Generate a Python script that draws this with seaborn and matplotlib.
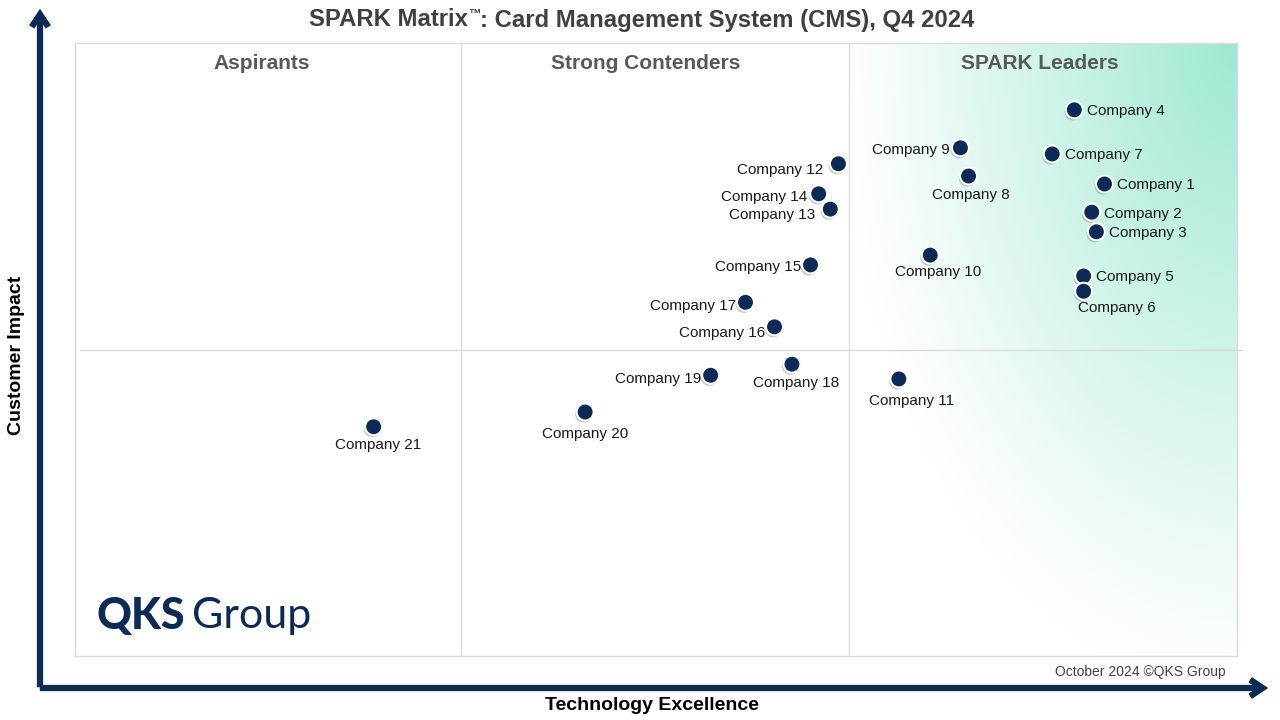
import numpy as np
import pandas as pd
import matplotlib
matplotlib.use('Agg')
import matplotlib.pyplot as plt
import matplotlib.patheffects as pe
from matplotlib.patches import FancyArrowPatch
import seaborn as sns

# vendor scores (0-100 on both axes)
companies = ['Company 1', 'Company 2', 'Company 3', 'Company 4', 'Company 5', 'Company 6',
             'Company 7', 'Company 8', 'Company 9', 'Company 10', 'Company 11', 'Company 12',
             'Company 13', 'Company 14', 'Company 15', 'Company 16', 'Company 17', 'Company 18',
             'Company 19', 'Company 20', 'Company 21']
tech_excellence = [88.6, 87.5, 87.9, 86.0, 86.8, 86.8, 84.1, 76.9, 76.2, 73.6, 70.9, 65.7,
                   65.0, 64.0, 63.3, 60.2, 57.7, 61.7, 54.7, 43.9, 25.7]
customer_impact = [77.0, 72.4, 69.2, 89.1, 62.0, 59.5, 81.9, 78.3, 82.9, 65.4, 45.2, 80.3,
                   72.9, 75.4, 63.8, 53.7, 57.7, 47.6, 45.8, 39.8, 37.4]
quadrants = ['Aspirants', 'Strong Contenders', 'SPARK Leaders']

df = pd.DataFrame({'Company': companies, 'Technology Excellence': tech_excellence,
                   'Customer Impact': customer_impact})

sns.set_style('white')
plt.rcParams['font.family'] = ['Liberation Sans', 'DejaVu Sans']

navy = '#0b2a55'
W, H = 1280, 720
fig = plt.figure(figsize=(12.8, 7.2), dpi=100)
ax = fig.add_axes([75 / W, 64 / H, 1162 / W, 613 / H])
ax.set_xlim(0, 100)
ax.set_ylim(0, 100)

# green gradient behind the leaders quadrant (fades out from the top-right corner)
gx = np.linspace(66.6, 100, 300)
gy = np.linspace(0, 100, 400)
GX, GY = np.meshgrid(gx, gy)
dx = (100 - GX) * 11.62 / 400
dy = (100 - GY) * 6.13 / 650
t = np.clip(1 - np.sqrt(dx ** 2 + dy ** 2), 0, 1) ** 1.1
mint = np.array([158, 232, 211]) / 255
img = np.ones(GX.shape + (3,)) * (1 - t[..., None]) + mint * t[..., None]
ax.imshow(img, extent=(66.6, 100, 0, 100), origin='lower', aspect='auto', zorder=0)

# quadrant dividers
for xv in (33.2, 66.6):
    ax.axvline(xv, color='#dcdcdc', lw=1, zorder=1)
ax.plot([0.4, 100.4], [49.9, 49.9], color='#dcdcdc', lw=1, zorder=1, clip_on=False)
for sp in ax.spines.values():
    sp.set_color('#dcdcdc')
    sp.set_linewidth(1)

for name, xc in zip(quadrants, (16.1, 49.1, 83.0)):
    ax.text(xc, 96.7, name, ha='center', va='center', fontsize=15, fontweight='bold',
            color='#595959')

sns.scatterplot(data=df, x='Technology Excellence', y='Customer Impact', s=150, color=navy,
                edgecolor='white', linewidth=1.5, ax=ax, zorder=5,
                path_effects=[pe.SimplePatchShadow(offset=(-1, -1.5), shadow_rgbFace='#888888', alpha=0.5),
                              pe.Normal()])

# label offsets in points
label_offsets = {
    'Company 1': (9, -1, 'left'), 'Company 2': (9, -1, 'left'), 'Company 3': (9, -1, 'left'),
    'Company 4': (9, -1, 'left'), 'Company 5': (9, -1, 'left'), 'Company 7': (9, -1, 'left'),
    'Company 6': (-4, -12, 'left'), 'Company 8': (2, -13.5, 'center'), 'Company 10': (6, -12.5, 'center'),
    'Company 11': (9, -16, 'center'), 'Company 18': (3, -13.5, 'center'), 'Company 20': (0, -15.5, 'center'),
    'Company 21': (3, -13.5, 'center'),
    'Company 9': (-8, -1.5, 'right'), 'Company 12': (-11, -4.5, 'right'), 'Company 13': (-11, -4.5, 'right'),
    'Company 14': (-8, -2.5, 'right'), 'Company 15': (-7, -1.5, 'right'), 'Company 16': (-7, -4.5, 'right'),
    'Company 17': (-7, -2.5, 'right'), 'Company 19': (-7, -2.5, 'right'),
}
for name, xv, yv in zip(companies, tech_excellence, customer_impact):
    ox, oy, ha = label_offsets[name]
    ax.annotate(name, (xv, yv), xytext=(ox, oy), textcoords='offset points', ha=ha,
                va='center', fontsize=11, color='#1a1a1a', zorder=6)

ax.set_xticks([])
ax.set_yticks([])
ax.set_xlabel('')
ax.set_ylabel('')

# title in three pieces so the trademark sign sits small and raised
renderer = fig.canvas.get_renderer()
ty = 1 - 20 / H
parts = [('SPARK Matrix', 17.2, 0), ('\u2122', 9, 5), (': Card Management System (CMS), Q4 2024', 17.2, 0)]
pieces = []
for txt, fs, rise in parts:
    tt = fig.text(0, ty + rise / H, txt, ha='left', va='center', fontsize=fs,
                  fontweight='bold', color='#404040')
    pieces.append(tt)
widths = [p.get_window_extent(renderer).width for p in pieces]
x0 = 642 - sum(widths) / 2
for p, w in zip(pieces, widths):
    p.set_x(x0 / W)
    x0 += w

fig.text(652 / W, 1 - 705 / H, 'Technology Excellence', ha='center', va='center',
         fontsize=14, fontweight='bold', color='black')
fig.text(17 / W, 1 - 355 / H, 'Customer Impact', ha='center', va='center', rotation=90,
         fontsize=14, fontweight='bold', color='black')
fig.text(1226 / W, 1 - 672 / H, 'October 2024 \u00a9QKS Group', ha='right', va='center',
         fontsize=10, color='#404040')

# big axis arrows
for a, b in (((40 / W, 1 - 690 / H), (40 / W, 1 - 6 / H)),
             ((37 / W, 1 - 688 / H), (1271 / W, 1 - 688 / H))):
    fig.add_artist(FancyArrowPatch(a, b, transform=fig.transFigure,
                                   arrowstyle='->,head_length=9,head_width=6',
                                   color=navy, lw=4.5, capstyle='butt', joinstyle='miter'))

# logo
qks = fig.text(97 / W, 1 - 616 / H, 'QKS', ha='left', va='center', fontsize=31,
               fontweight='black', family=['Lato', 'Liberation Sans'], color=navy)
bb = qks.get_window_extent(renderer)
fig.text((bb.x1 + 7) / W, 1 - 616 / H, 'Group', ha='left', va='center', fontsize=31,
         family=['Lato', 'Liberation Sans'], color=navy)

fig.savefig('out.png', dpi=100, facecolor='white')
